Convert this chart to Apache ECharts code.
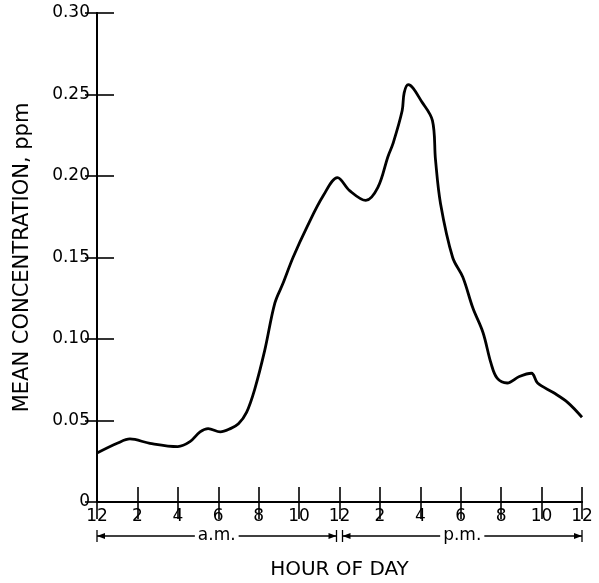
<!DOCTYPE html>
<html><head><meta charset="utf-8">
<script src="https://cdn.jsdelivr.net/npm/echarts@6/dist/echarts.min.js"></script>
<style>html,body{margin:0;padding:0;background:#fff}#c{width:599px;height:583px}</style>
</head><body><div id="c"></div>
<script>
// Hour of day (0 = midnight, 12 = noon, 24 = midnight)
const hours = [0, 1, 1.63, 2.62, 4.0, 4.6, 5.1, 5.5, 6.1, 6.6, 7.0, 7.4, 7.8, 8.3, 8.8, 9.2, 9.7, 10.4, 11.2, 11.9, 12.5, 13.3, 13.9, 14.4, 14.65, 15.1, 15.2, 15.4, 16.1, 16.6, 16.75, 17.0, 17.6, 18.1, 18.6, 19.1, 19.5, 19.8, 20.3, 20.9, 21.5, 21.8, 22.6, 23.3, 24];
const concentration = [0.030, 0.036, 0.0387, 0.036, 0.034, 0.037, 0.043, 0.045, 0.043, 0.045, 0.048, 0.055, 0.069, 0.093, 0.122, 0.134, 0.150, 0.169, 0.188, 0.199, 0.191, 0.185, 0.193, 0.212, 0.220, 0.240, 0.251, 0.256, 0.245, 0.234, 0.210, 0.183, 0.150, 0.138, 0.119, 0.104, 0.085, 0.076, 0.073, 0.077, 0.079, 0.073, 0.067, 0.061, 0.052];
const xTickLabels = ['12', '2', '4', '6', '8', '10', '12', '2', '4', '6', '8', '10', '12'];
const periods = [{ name: 'a.m.', from: 0, to: 12 }, { name: 'p.m.', from: 12, to: 24 }];

const FONT = 'DejaVu Sans';
const chart = echarts.init(document.getElementById('c'));
const axisLine = { show: true, lineStyle: { color: '#000', width: 2 } };
const tickStyle = { color: '#000', width: 1.6 };

chart.setOption({
  animation: false,
  backgroundColor: '#fff',
  grid: { left: 97, right: 17, top: 13, bottom: 81, outerBoundsMode: 'none', containLabel: false },
  xAxis: [{
    type: 'value', min: 0, max: 24, interval: 2, position: 'bottom',
    axisLine, splitLine: { show: false },
    axisTick: { inside: true, length: 15, lineStyle: tickStyle },
    axisLabel: { color: '#000', fontFamily: FONT, fontSize: 17, margin: 6,
      formatter: v => xTickLabels[Math.round(v / 2)] },
    name: 'HOUR OF DAY', nameLocation: 'middle', nameGap: 58,
    nameTextStyle: { color: '#000', fontFamily: FONT, fontSize: 20 }
  }, {
    type: 'value', min: 0, max: 24, interval: 2, position: 'top',
    axisLine, splitLine: { show: false },
    axisTick: { inside: true, length: 17, lineStyle: tickStyle },
    axisLabel: { show: false }
  }],
  yAxis: [{
    type: 'value', min: 0, max: 0.30, interval: 0.05, position: 'left',
    axisLine, splitLine: { show: false },
    axisTick: { inside: true, length: 17, lineStyle: tickStyle },
    axisLabel: { color: '#000', fontFamily: FONT, fontSize: 17, margin: 7,
      formatter: v => v === 0 ? '0' : v.toFixed(2) },
    name: 'MEAN CONCENTRATION, ppm', nameLocation: 'middle', nameGap: 64,
    nameTextStyle: { color: '#000', fontFamily: FONT, fontSize: 21 }
  }, {
    type: 'value', min: 0, max: 0.30, interval: 0.05, position: 'right',
    axisLine, splitLine: { show: false },
    axisTick: { inside: true, length: 12, lineStyle: tickStyle },
    axisLabel: { show: false }
  }],
  series: [{
    type: 'line', xAxisIndex: 0, yAxisIndex: 0,
    data: hours.map((h, i) => [h, concentration[i]]),
    smooth: 0.35, showSymbol: false,
    lineStyle: { color: '#000', width: 2.8 }
  }]
});

// a.m. / p.m. brackets below the axis
const bracketY = 536;
const els = [];
periods.forEach(p => {
  const x0 = chart.convertToPixel({ xAxisIndex: 0 }, p.from) + (p.from === 0 ? 0 : 3);
  const x1 = chart.convertToPixel({ xAxisIndex: 0 }, p.to) - (p.to === 12 ? 3 : 0);
  const ls = { stroke: '#000', lineWidth: 1.3 };
  els.push({ type: 'line', shape: { x1: x0, y1: bracketY, x2: x1, y2: bracketY }, style: ls });
  els.push({ type: 'polygon', shape: { points: [[x0, bracketY], [x0 + 8, bracketY - 3], [x0 + 8, bracketY + 3]] }, style: { fill: '#000' } });
  els.push({ type: 'polygon', shape: { points: [[x1, bracketY], [x1 - 8, bracketY - 3], [x1 - 8, bracketY + 3]] }, style: { fill: '#000' } });
  els.push({ type: 'line', shape: { x1: x0, y1: bracketY - 6, x2: x0, y2: bracketY + 6 }, style: ls });
  els.push({ type: 'line', shape: { x1: x1, y1: bracketY - 6, x2: x1, y2: bracketY + 6 }, style: ls });
  els.push({ type: 'text', x: (x0 + x1) / 2, y: bracketY, style: {
    text: p.name, fill: '#000', font: '17px "' + FONT + '"', align: 'center', verticalAlign: 'middle',
    backgroundColor: '#fff', padding: [0, 3] } });
});
chart.setOption({ graphic: els });
</script>
</body></html>
